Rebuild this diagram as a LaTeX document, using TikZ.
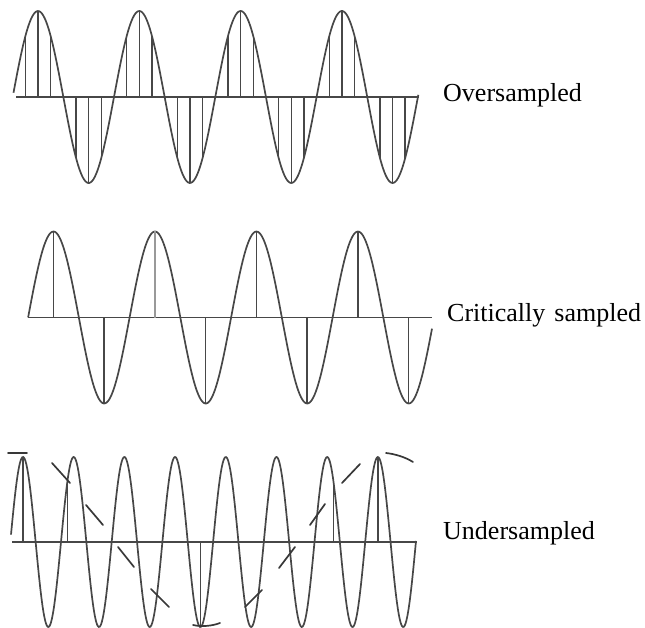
\documentclass[tikz,border=0pt]{standalone}
\usepackage{fontspec}
\setmainfont{Liberation Serif}
\usepackage{tikz}

\begin{document}
\begin{tikzpicture}[
    x=1pt, y=-1pt,
    wave/.style={line width=1.7pt, draw=black!72},
    axisline/.style={line width=1.5pt, draw=black!72},
    sample/.style={line width=1.5pt, draw=black!72},
    alias/.style={line width=1.7pt, draw=black!78, line cap=round},
    label/.style={anchor=base west, inner sep=0pt, font=\fontsize{26}{30}\selectfont}
]
    \useasboundingbox (0,0) rectangle (645,628);

    % 过采样
    \draw[axisline] (16,97) -- (419,97);
    \draw[wave] plot[domain=13.5:418.3, samples=300, smooth] (\x,{97-86*sin((\x-12.7)/101.3*360)});
    \foreach \k in {0,...,3}
        \foreach \j in {1,2,3,5,6,7} {
            \pgfmathsetmacro{\xs}{12.7+101.3*(\k+\j/8)}
            \draw[sample] (\xs,97) -- (\xs,{97-86*sin(45*\j)});
        }
    \node[label] (over) at (443,102) {Oversampled};

    % 临界采样
    \draw[axisline] (28,317.5) -- (432,317.5);
    \draw[wave] plot[domain=28.1:432, samples=300, smooth] (\x,{317.5-86*sin((\x-28.1)/101.5*360)});
    \foreach \k in {0,...,3}
        \foreach \j in {2,6} {
            \pgfmathsetmacro{\xs}{28.1+101.5*(\k+\j/8)}
            \draw[sample] (\xs,317.5) -- (\xs,{317.5-86*sin(45*\j)});
        }
    \draw[sample, draw=black!40] ({28.1+101.5*1.25},317.5) -- ({28.1+101.5*1.25},231.5);
    \node[label] (crit) at (447,321) {Critically\hspace{9pt}sampled};

    % 欠采样
    \draw[axisline] (12,542) -- (417,542);
    \draw[wave] plot[domain=11:416, samples=500, smooth] (\x,{542-85*sin((\x-10.3)/50.7*360)});
    \foreach \n in {0,1,4,7,8} {
        \pgfmathsetmacro{\xs}{23+44.38*\n}
        \draw[sample] (\xs,542) -- (\xs,{542-85*cos((\xs-23)/50.7*360)});
    }
    % 混叠曲线（虚线）
    \draw[alias] (8,453) -- (27,453);
    \foreach \xa/\ya/\xb/\yb in {52/463/70/483, 86/505/103/525, 118/547/134/567,
                                 151/589/169/607, 245/607/262/590, 279/568/295/547,
                                 310/525/325/504, 342/483/360/464}
        \draw[alias] (\xa,\ya) -- (\xb,\yb);
    \draw[alias] (193,625) .. controls (202,627) and (212,626) .. (220,623);
    \draw[alias] (386,453) .. controls (395,454) and (405,457) .. (413,462);
    \node[label] (under) at (443,539) {Undersampled};
\end{tikzpicture}
\end{document}
